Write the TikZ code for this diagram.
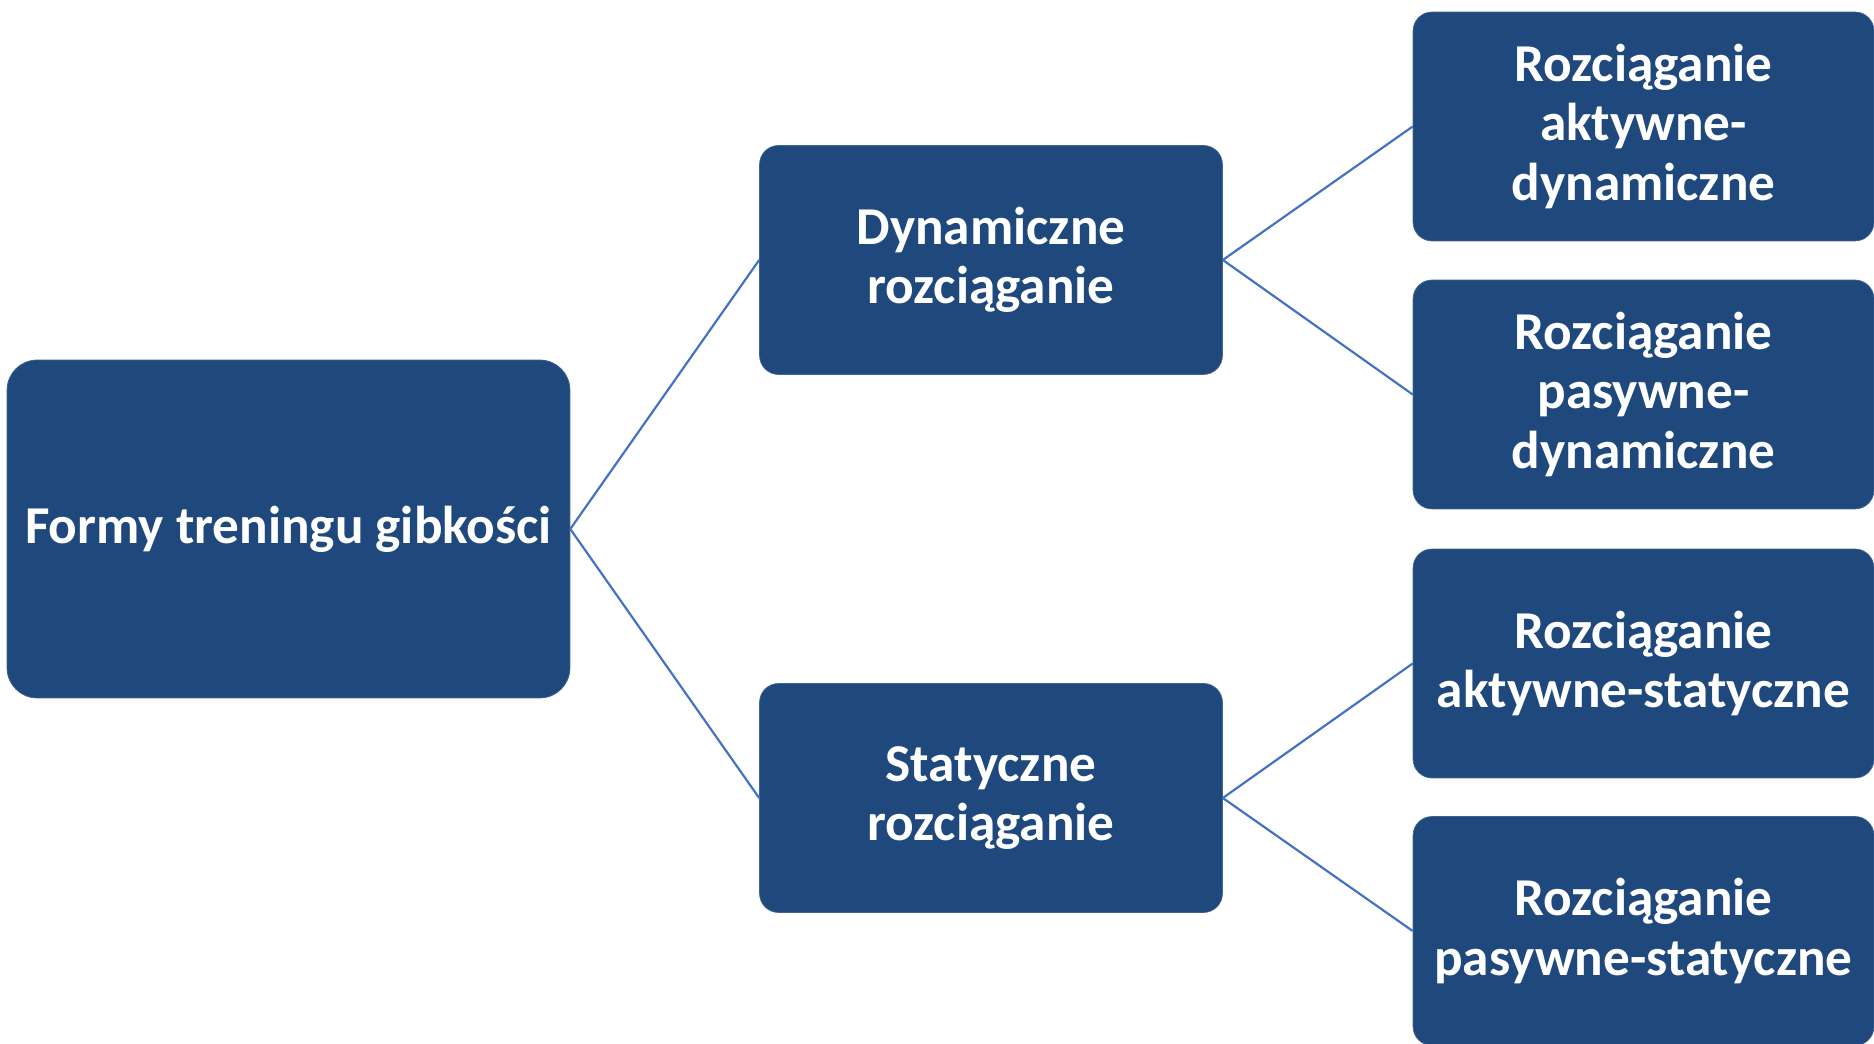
\documentclass[tikz,border=0pt]{standalone}
\usepackage{fontspec}
\setmainfont{Carlito}
\definecolor{boxblue}{RGB}{31,73,125}
\definecolor{linkblue}{RGB}{68,114,196}
\tikzset{
  formbox/.style={draw=boxblue!85!white, fill=boxblue, text=white,
    font=\bfseries\fontsize{30.3}{33.6}\selectfont, align=center,
    rounded corners=0.38cm, inner sep=0pt,
    minimum width=9.26cm, minimum height=4.58cm},
  link/.style={draw=linkblue, line width=1.25pt}
}
\begin{document}
\begin{tikzpicture}[x=0.02cm,y=0.02cm]
  \useasboundingbox (0,0) rectangle (1874,1044);
  \node[formbox, minimum width=11.26cm, minimum height=6.76cm, rounded corners=0.6cm]
    (formy) at (288.5,515) {Formy treningu gibkości};
  \node[formbox] (dyn) at (991,784) {Dynamiczne\\rozciąganie};
  \node[formbox] (stat) at (991,246) {Statyczne\\rozciąganie};
  \node[formbox, minimum width=9.22cm] (aktdyn) at (1643.5,917.5) {Rozciąganie\\aktywne-\\dynamiczne};
  \node[formbox, minimum width=9.22cm] (pasdyn) at (1643.5,649.5) {Rozciąganie\\pasywne-\\dynamiczne};
  \node[formbox, minimum width=9.22cm] (aktstat) at (1643.5,380.5) {Rozciąganie\\aktywne-statyczne};
  \node[formbox, minimum width=9.22cm] (passtat) at (1643.5,113) {Rozciąganie\\pasywne-statyczne};
  \foreach \a/\b in {formy/dyn, formy/stat, dyn/aktdyn, dyn/pasdyn, stat/aktstat, stat/passtat}
    \draw[link] (\a.east) -- (\b.west);
\end{tikzpicture}
\end{document}
